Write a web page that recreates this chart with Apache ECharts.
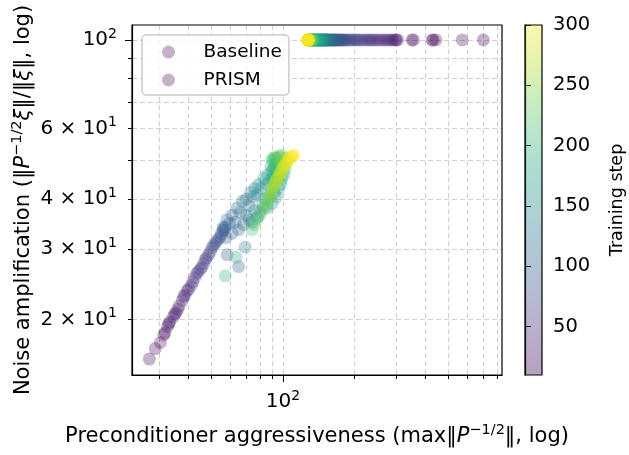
<!DOCTYPE html>
<html>
<head>
<meta charset="utf-8">
<script src="https://cdn.jsdelivr.net/npm/echarts@6/dist/echarts.min.js"></script>
<style>
html,body{margin:0;padding:0;background:#fff}
#chart{width:629px;height:455px}
</style>
</head>
<body>
<div id="chart"></div>
<script>
// Baseline: noise amplification sits at the clip value 100
var baselineStep = [10,12,14,16,18,20,22,24,26,28,30,32,34,36,38,40,42,44,46,48,50,52,54,56,58,60,62,64,66,68,70,72,74,
	76,78,80,82,84,86,88,90,92,94,96,98,100,102,104,106,108,110,112,114,116,118,120,122,124,126,128,130,132,134,136,138,140,
	142,144,146,148,150,152,154,156,158,160,162,164,166,168,170,172,174,176,178,180,182,184,186,188,190,192,194,196,198,200,
	202,204,206,208,210,212,214,216,218,220,222,224,226,228,230,232,234,236,238,240,242,244,246,248,250,252,254,256,258,260,
	262,264,266,268,270,272,274,276,278,280,282,284,286,288,290,292,294,296,298,300];
var baselineX = [700,570,442,425,430,355,350,305,300,298,290,285,278,272,265,258,252,246,240,235,230,225,220,215,210,206,202,198,194,191,188,185,182,
	180,178,176,174.5,173,171.5,170,168.5,167,166,165,164,163,162,161,160,159,158,157.2,156.4,155.6,154.8,154,153.3,152.6,152,151.4,150.8,150.2,149.6,149,148.5,148,
	147.5,147,146.5,146,145.5,145,144.5,144,143.5,143,142.5,142,141.5,141,140.5,140,139.6,139.2,138.8,138.4,138,137.6,137.2,136.8,136.4,136,135.6,135.2,134.8,134.4,
	134,133.7,133.4,133.1,132.8,132.5,132.2,131.9,131.6,131.3,131,130.8,130.6,130.4,130.2,130,129.8,129.6,129.4,129.2,129,128.8,128.7,128.6,128.5,128.4,128.3,128.2,128.1,128,
	127.9,127.9,127.8,127.8,127.7,127.7,127.7,127.6,127.6,127.6,127.6,127.5,127.5,127.5,127.5,127.5,127.5,127.5,127.5,127.5];
var baselineY = [100,100,100,100,100,100,100,100,100,100,100,100,100,100,100,100,100,100,100,100,100,100,100,100,100,100,100,100,100,100,100,100,100,
	100,100,100,100,100,100,100,100,100,100,100,100,100,100,100,100,100,100,100,100,100,100,100,100,100,100,100,100,100,100,100,100,100,
	100,100,100,100,100,100,100,100,100,100,100,100,100,100,100,100,100,100,100,100,100,100,100,100,100,100,100,100,100,100,
	100,100,100,100,100,100,100,100,100,100,100,100,100,100,100,100,100,100,100,100,100,100,100,100,100,100,100,100,100,100,
	100,100,100,100,100,100,100,100,100,100,100,100,100,100,100,100,100,100,100,100];

// PRISM
var prismStep = [10,12,14,16,18,20,22,24,26,28,30,32,34,36,38,40,42,44,46,48,50,52,54,56,58,60,62,64,66,68,70,72,74,76,78,80,82,84,86,88,90,
	92,94,96,98,100,102,104,106,108,110,112,114,116,118,120,122,124,126,128,130,132,134,136,138,140,
	142,144,146,148,150,152,154,156,158,160,162,164,166,168,170,172,174,176,178,180,182,184,186,188,190,
	192,194,196,198,200,202,204,206,208,210,212,214,216,218,220,222,224,226,228,230,232,234,236,238,240,242,244,
	246,248,250,252,254,256,258,260,262,264,266,268,270,272,274,276,278,280,282,284,286,288,290,292,294,296,298,300];
var prismX = [27.3,28.9,30.4,31.4,31.8,32.6,33.0,33.3,34.5,35.0,35.4,36.0,36.5,37.6,38.1,38.6,39.4,40.0,41.0,41.6,42.4,43.2,43.8,44.8,45.5,46.3,47.0,47.5,48.5,49.4,50.2,51.0,51.8,52.5,53.5,54.4,55.0,58.1,55.8,56.5,57.0,
	57.5,56.0,59.5,58.0,65.0,61.0,61.0,63.0,64.0,65.0,66.0,68.0,67.5,70.0,72.0,70.0,74.0,72.0,73.0,76.0,69.3,78.0,75.0,76.0,80.0,
	78.0,82.0,79.0,84.0,81.0,86.0,83.0,88.0,85.0,90.0,86.0,92.0,88.0,94.0,89.5,96.0,91.0,98.0,92.0,99.0,94.0,101.0,95.0,102.0,97.0,
	63.5,57.1,90.0,89.0,91.3,90.0,92.5,90.5,94.0,92.5,74.0,93.0,75.5,95.0,77.6,96.0,80.0,97.0,82.8,98.0,84.5,99.0,86.0,97.4,87.0,100.0,88.0,
	88.5,89.0,89.5,90.5,91.3,92.0,92.5,93.5,94.0,94.5,95.8,96.5,97.0,98.0,98.8,99.5,100.6,101.3,102.0,103.0,104.0,105.0,106.0,106.5,108.0,109.0,110.0,111.6];
var prismY = [15.9,16.9,17.5,18.3,18.5,19.2,19.5,19.7,20.3,20.6,20.8,21.2,21.6,22.3,22.8,23.0,23.6,23.8,24.3,24.8,25.4,26.0,26.3,26.7,27.0,27.6,28.2,28.5,29.0,29.5,30.2,30.6,31.0,31.4,31.8,32.2,32.8,29.0,33.4,33.5,34.0,
	32.0,34.0,34.8,35.5,27.1,32.8,36.5,35.0,38.0,33.5,37.0,34.5,39.5,36.5,35.5,40.0,35.0,38.5,41.5,37.5,30.3,36.0,40.5,42.5,37.0,
	41.0,38.5,43.5,40.0,42.5,38.0,45.0,40.5,43.5,39.0,46.0,41.5,44.5,40.5,47.0,42.5,45.5,43.5,48.0,45.0,47.0,46.0,49.0,47.5,48.5,
	28.6,25.7,45.0,48.5,47.2,50.0,49.0,50.5,48.5,51.0,33.5,50.5,34.5,50.5,35.5,50.0,36.5,51.3,37.9,51.0,38.5,51.5,39.3,49.1,39.8,50.5,40.5,
	41.0,41.5,42.0,42.5,43.0,43.5,43.8,44.2,44.8,45.0,45.5,46.0,46.2,46.8,47.2,47.5,48.2,48.4,48.6,49.0,49.5,50.0,50.4,50.6,51.0,51.2,51.3,51.5];

var xMajor = [100];
var xMinor = [30,40,50,60,70,80,90,200,300,400,500,600,700,800];
var yMajor = [100];
var yMinor = [20,30,40,50,60,70,80,90];
var yMinorLabels = [20,30,40,60];
var cbTicks = [50,100,150,200,250,300];

var FONT = 'DejaVu Sans';
var ALPHA = 0.38;
var viridis = ['#440154','#482475','#414487','#355f8d','#2a788e','#21918c','#22a884','#44bf70','#7ad151','#bddf26','#fde725'];

function rgba(hex, a) {
	var r = parseInt(hex.slice(1,3),16), g = parseInt(hex.slice(3,5),16), b = parseInt(hex.slice(5,7),16);
	return 'rgba(' + r + ',' + g + ',' + b + ',' + a + ')';
}

function toPoints(xs, ys, st) {
	var out = [];
	for (var i = 0; i < xs.length; i++) out.push([xs[i], ys[i], st[i]]);
	return out;
}

var tickRich = {
	b: {fontFamily: FONT, fontSize: 20, color: '#000', lineHeight: 26},
	s: {fontFamily: FONT, fontSize: 14, color: '#000', lineHeight: 12, verticalAlign: 'top'}
};
var nameRich = {
	n: {fontFamily: FONT, fontSize: 21, color: '#000', lineHeight: 28},
	i: {fontFamily: FONT, fontSize: 21, color: '#000', lineHeight: 28, fontStyle: 'italic'},
	s: {fontFamily: FONT, fontSize: 14.5, color: '#000', lineHeight: 12, verticalAlign: 'top'}
};
var gridLine = {show: true, lineStyle: {color: '#d0d0d0', type: [5, 3], width: 1}};

function logLabel(v) {
	if (v == 100) return '{b|10}{s|2}';
	return '{b|' + (v / 10) + ' × 10}{s|1}';
}

var viridisAlpha = viridis.map(function (c) { return rgba(c, ALPHA); });
var XMIN = 23.07, XMAX = 839, YMIN = 14.51, YMAX = 109;

var myChart = echarts.init(document.getElementById('chart'));
var option = {
	animation: false,
	grid: [
		{left: 132, top: 25, width: 370, height: 350, show: true, borderColor: '#000', borderWidth: 1.2, z: 10},
		{left: 525, top: 25, width: 17, height: 350, show: true, borderColor: '#000', borderWidth: 1.2, z: 10}
	],
	legend: {
		data: ['Baseline', 'PRISM'],
		orient: 'vertical',
		left: 142, top: 35,
		padding: [7, 7, 5, 20],
		itemGap: 8,
		itemWidth: 30, itemHeight: 13,
		icon: 'circle',
		borderColor: '#cccccc', borderWidth: 1.5, borderRadius: 4,
		backgroundColor: 'rgba(255,255,255,0.8)',
		textStyle: {fontFamily: FONT, fontSize: 18.5, color: '#000', lineHeight: 20, padding: [0, 0, 0, 15]}
	},
	visualMap: {
		type: 'continuous',
		min: 10, max: 300,
		dimension: 2,
		seriesIndex: [0, 1],
		calculable: false,
		left: 525, top: 25,
		itemWidth: 17, itemHeight: 350,
		padding: 0,
		text: null,
		inRange: {color: viridisAlpha},
		outOfRange: {color: ['rgba(0,0,0,0)']},
		controller: {
			inRange: {color: viridisAlpha},
			outOfRange: {color: ['rgba(0,0,0,0)']}
		}
	},
	xAxis: [
		{
			type: 'log', gridIndex: 0, min: XMIN, max: XMAX, position: 'bottom',
			axisLine: {show: true, lineStyle: {color: '#000', width: 1.2}},
			axisTick: {show: true, customValues: xMajor, length: 7, lineStyle: {color: '#000', width: 1}},
			axisLabel: {customValues: xMajor, formatter: logLabel, rich: tickRich, margin: 14},
			splitLine: gridLine,
			name: '{n|Preconditioner aggressiveness (max‖}{i|P}{s|−1/2}{n|‖, log)}',
			nameLocation: 'middle', nameGap: 48,
			nameTextStyle: {rich: nameRich}
		},
		{
			// minor ticks + minor grid
			type: 'log', gridIndex: 0, min: XMIN, max: XMAX, position: 'bottom',
			axisLine: {show: false},
			axisTick: {show: true, customValues: xMinor, length: 4, lineStyle: {color: '#000', width: 1}},
			axisLabel: {show: false},
			splitLine: gridLine
		},
		{type: 'value', gridIndex: 1, show: false, min: 0, max: 1}
	],
	yAxis: [
		{
			type: 'log', gridIndex: 0, min: YMIN, max: YMAX, position: 'left',
			axisLine: {show: true, lineStyle: {color: '#000', width: 1.2}},
			axisTick: {show: true, customValues: yMajor, length: 7, lineStyle: {color: '#000', width: 1}},
			axisLabel: {customValues: yMajor, formatter: logLabel, rich: tickRich, margin: 15},
			splitLine: gridLine,
			name: '{n|Noise amplification (‖}{i|P}{s|−1/2}{i|ξ}{n|‖/‖}{i|ξ}{n|‖, log)}',
			nameLocation: 'middle', nameGap: 94,
			nameTextStyle: {rich: nameRich}
		},
		{
			type: 'log', gridIndex: 0, min: YMIN, max: YMAX, position: 'left',
			axisLine: {show: false},
			axisTick: {show: true, customValues: yMinor, length: 4, lineStyle: {color: '#000', width: 1}},
			axisLabel: {customValues: yMinorLabels, formatter: logLabel, rich: tickRich, margin: 15},
			splitLine: gridLine
		},
		{
			type: 'value', gridIndex: 1, min: 10, max: 300, position: 'right',
			axisLine: {show: true, lineStyle: {color: '#000', width: 1.2}},
			axisTick: {show: true, customValues: cbTicks, length: 6, lineStyle: {color: '#000', width: 1}},
			axisLabel: {customValues: cbTicks, fontFamily: FONT, fontSize: 19.5, color: '#000', margin: 11},
			splitLine: {show: false},
			name: 'Training step',
			nameLocation: 'middle', nameGap: 66, nameRotate: 90,
			nameTextStyle: {fontFamily: FONT, fontSize: 17.5, color: '#000'}
		}
	],
	series: [
		{
			name: 'Baseline', type: 'scatter', xAxisIndex: 0, yAxisIndex: 0,
			symbolSize: 13,
			itemStyle: {color: rgba(viridis[0], ALPHA)},
			data: toPoints(baselineX, baselineY, baselineStep)
		},
		{
			name: 'PRISM', type: 'scatter', xAxisIndex: 0, yAxisIndex: 0,
			symbolSize: 13,
			itemStyle: {color: rgba(viridis[0], ALPHA)},
			data: toPoints(prismX, prismY, prismStep)
		}
	]
};
myChart.setOption(option);
</script>
</body>
</html>
